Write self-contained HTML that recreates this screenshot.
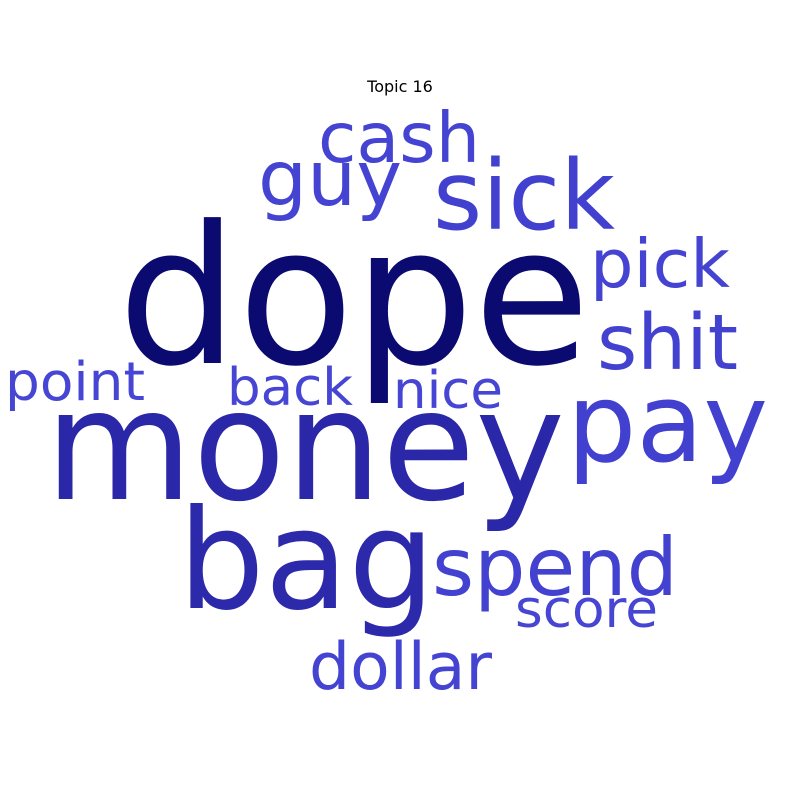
<!DOCTYPE html>
<html>
<head>
<meta charset="utf-8">
<style>
  html,body{margin:0;padding:0;background:#fff;}
  svg{display:block;}
  text{font-family:"DejaVu Sans","Liberation Sans",sans-serif;}
</style>
</head>
<body>
<svg id="cloud" width="800" height="800" viewBox="0 0 800 800" xmlns="http://www.w3.org/2000/svg">
  <rect width="800" height="800" fill="#ffffff"/>
  <text x="400" y="92" font-size="16" text-anchor="middle" fill="#000">Topic 16</text>
  <g id="words"></g>
</svg>
<script>
const words   = ["dope","money","bag","sick","pay","cash","guy","pick","shit","point","back","nice","spend","score","dollar"];
const weights = [1.0, 0.80, 0.72, 0.50, 0.57, 0.36, 0.40, 0.35, 0.40, 0.28, 0.27, 0.27, 0.42, 0.27, 0.34];
const colors  = ["#0a0a70","#2a27a8","#2c2aab","#4140cf","#4240cf","#4443d2","#4443d2","#4443d2","#4341d0","#4645d4","#4645d4","#4645d4","#4341d0","#4645d4","#4443d2"];
const lefts   = [118, 45, 178, 433, 567, 318, 258, 590, 597, 5, 227, 393, 432, 515, 309];
const bases   = [363, 499, 608, 229, 461, 162, 205, 287, 369, 400, 405, 408, 595, 627, 689];
const widths  = [472, 520, 257, 182, 201, 162, 144, 140, 141, 140, 126, 110, 246, 143, 183];
const maxFont = 192;
const g = document.getElementById('words');
const NS = "http://www.w3.org/2000/svg";
for (let i = 0; i < words.length; i++) {
  const t = document.createElementNS(NS, 'text');
  t.setAttribute('x', lefts[i]);
  t.setAttribute('y', bases[i]);
  t.setAttribute('font-size', (weights[i] * maxFont).toFixed(1));
  t.setAttribute('fill', colors[i]);
  t.setAttribute('textLength', widths[i]);
  t.setAttribute('lengthAdjust', 'spacingAndGlyphs');
  t.textContent = words[i];
  
  
  g.appendChild(t);
}
</script>
</body>
</html>
